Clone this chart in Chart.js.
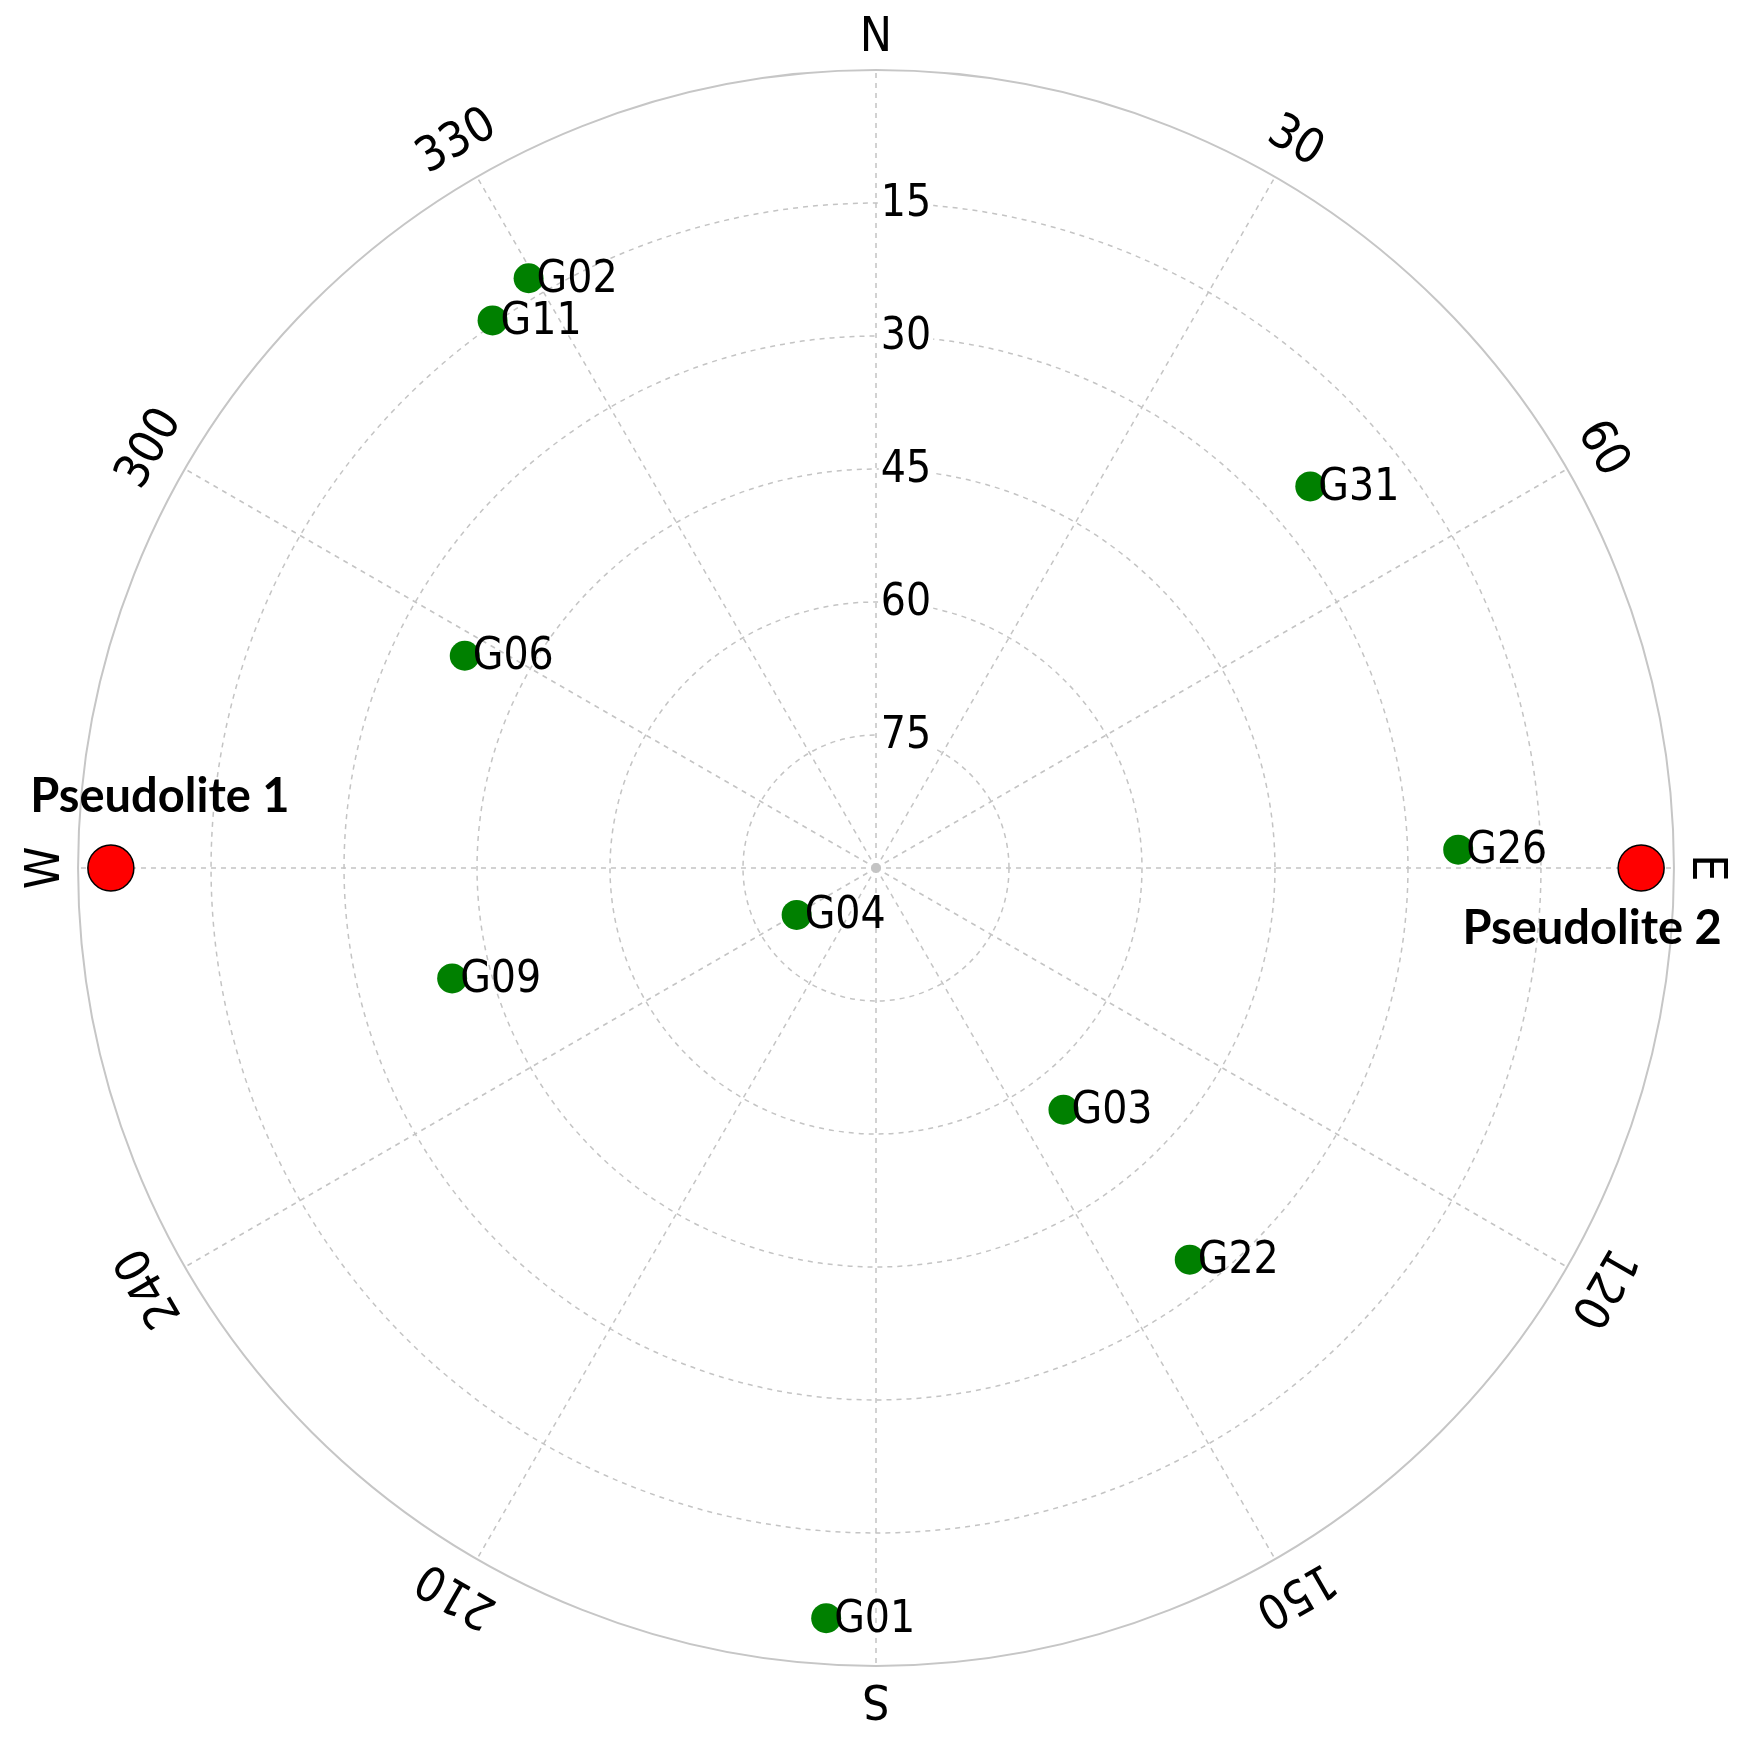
<!DOCTYPE html>
<html>
<head>
<meta charset="utf-8">
<script src="https://cdn.jsdelivr.net/npm/chart.js@4.4.1/dist/chart.umd.min.js"></script>
<style>
  html, body { margin: 0; padding: 0; background: #ffffff; }
  #wrap { width: 1749px; height: 1741px; }
</style>
</head>
<body>
<div id="wrap"><canvas id="c" width="1749" height="1741"></canvas></div>
<script>
// ---- data ----
const satNames = ['G02', 'G11', 'G31', 'G06', 'G26', 'G04', 'G09', 'G03', 'G22', 'G01'];
const satAzimuth = [329.5, 325.0, 48.7, 297.3, 88.2, 239.4, 255.4, 142.2, 141.3, 183.8];
const satElevation = [12.8, 14.6, 24.8, 37.8, 24.3, 79.6, 40.6, 55.5, 33.4, 5.2];

const pseudoNames = ['Pseudolite 1', 'Pseudolite 2'];
const pseudoAzimuth = [270, 90];
const pseudoElevation = [3.7, 3.7];

const azimuthTicks = [0, 30, 60, 90, 120, 150, 180, 210, 240, 270, 300, 330];
const azimuthLabels = ['N', '30', '60', 'E', '120', '150', 'S', '210', '240', 'W', '300', '330'];
const elevationTicks = [15, 30, 45, 60, 75];
const elevationLabels = ['15', '30', '45', '60', '75'];

// ---- helpers ----
function toXY(az, el) {
  const z = 90 - el;
  const a = az * Math.PI / 180;
  return { x: z * Math.sin(a), y: z * Math.cos(a) };
}
const satPoints = satAzimuth.map((az, i) => toXY(az, satElevation[i]));
const pseudoPoints = pseudoAzimuth.map((az, i) => toXY(az, pseudoElevation[i]));

const LABEL_FONT = '"DejaVu Sans Condensed", "DejaVu Sans", sans-serif';
const pseudoLabelOffsets = [{ dx: 49, dy: -71 }, { dx: -49, dy: 61 }];

const skyGrid = {
  id: 'skyGrid',
  beforeDatasetsDraw(chart) {
    const ctx = chart.ctx;
    const xs = chart.scales.x, ys = chart.scales.y;
    const cx = xs.getPixelForValue(0), cy = ys.getPixelForValue(0);
    const rpx = v => Math.abs(xs.getPixelForValue(v) - cx);
    ctx.save();
    // horizon circle
    ctx.strokeStyle = '#c6c6c6';
    ctx.lineWidth = 2;
    ctx.setLineDash([]);
    ctx.beginPath();
    ctx.arc(cx, cy, rpx(90), 0, Math.PI * 2);
    ctx.stroke();
    // elevation rings
    ctx.strokeStyle = '#c4c4c4';
    ctx.lineWidth = 1.5;
    ctx.setLineDash([5, 5]);
    elevationTicks.forEach(el => {
      ctx.beginPath();
      ctx.arc(cx, cy, rpx(90 - el), 0, Math.PI * 2);
      ctx.stroke();
    });
    // azimuth spokes
    azimuthTicks.forEach(az => {
      const p = toXY(az, 0);
      ctx.beginPath();
      ctx.moveTo(cx, cy);
      ctx.lineTo(xs.getPixelForValue(p.x), ys.getPixelForValue(p.y));
      ctx.stroke();
    });
    ctx.setLineDash([]);
    ctx.fillStyle = '#c4c4c4';
    ctx.beginPath();
    ctx.arc(cx, cy, 5, 0, Math.PI * 2);
    ctx.fill();

    // azimuth labels
    ctx.fillStyle = '#000000';
    ctx.font = '48px ' + LABEL_FONT;
    ctx.textAlign = 'center';
    ctx.textBaseline = 'middle';
    azimuthTicks.forEach((az, i) => {
      const txt = azimuthLabels[i];
      const labR = rpx(90) + (txt.length === 1 ? 32 : 40);
      const a = az * Math.PI / 180;
      const lx = cx + labR * Math.sin(a);
      const ly = cy - labR * Math.cos(a);
      ctx.save();
      ctx.translate(lx, ly);
      ctx.rotate(a);
      ctx.fillText(txt, 0, 0);
      ctx.restore();
    });

    // elevation labels
    ctx.font = '44px ' + LABEL_FONT;
    elevationTicks.forEach((el, i) => {
      const ly = ys.getPixelForValue(90 - el);
      const lx = cx + 30;
      const w = ctx.measureText(elevationLabels[i]).width;
      ctx.fillStyle = '#ffffff';
      ctx.fillRect(lx - w / 2 - 2, ly - 17, w + 4, 34);
      ctx.fillStyle = '#000000';
      ctx.fillText(elevationLabels[i], lx, ly + 2);
    });
    ctx.restore();
  },
  afterDatasetsDraw(chart) {
    const ctx = chart.ctx;
    const xs = chart.scales.x, ys = chart.scales.y;
    ctx.save();
    ctx.fillStyle = '#000000';
    ctx.font = '44px ' + LABEL_FONT;
    ctx.textAlign = 'left';
    ctx.textBaseline = 'middle';
    satPoints.forEach((p, i) => {
      const px = xs.getPixelForValue(p.x), py = ys.getPixelForValue(p.y);
      ctx.fillText(satNames[i], px + 8, py + 2);
    });
    ctx.font = 'bold 47px Lato, "Open Sans", sans-serif';
    ctx.textAlign = 'center';
    pseudoPoints.forEach((p, i) => {
      const px = xs.getPixelForValue(p.x), py = ys.getPixelForValue(p.y);
      const o = pseudoLabelOffsets[i];
      ctx.fillText(pseudoNames[i], px + o.dx, py + o.dy, 268);
    });
    ctx.restore();
  }
};

new Chart(document.getElementById('c'), {
  type: 'scatter',
  data: {
    datasets: [
      {
        label: 'GPS',
        data: satPoints,
        pointRadius: 15,
        pointHoverRadius: 15,
        backgroundColor: '#008000',
        borderColor: '#008000',
        borderWidth: 0
      },
      {
        label: 'Pseudolites',
        data: pseudoPoints,
        pointRadius: 23,
        pointHoverRadius: 23,
        backgroundColor: '#ff0000',
        borderColor: '#000000',
        borderWidth: 1.5
      }
    ]
  },
  options: {
    responsive: false,
    animation: false,
    events: [],
    layout: { autoPadding: false, padding: { left: 16, right: 13, top: 8, bottom: 13 } },
    plugins: { legend: { display: false }, tooltip: { enabled: false } },
    scales: {
      x: { type: 'linear', min: -97, max: 97, display: false },
      y: { type: 'linear', min: -97, max: 97, display: false }
    }
  },
  plugins: [skyGrid]
});
</script>
</body>
</html>
